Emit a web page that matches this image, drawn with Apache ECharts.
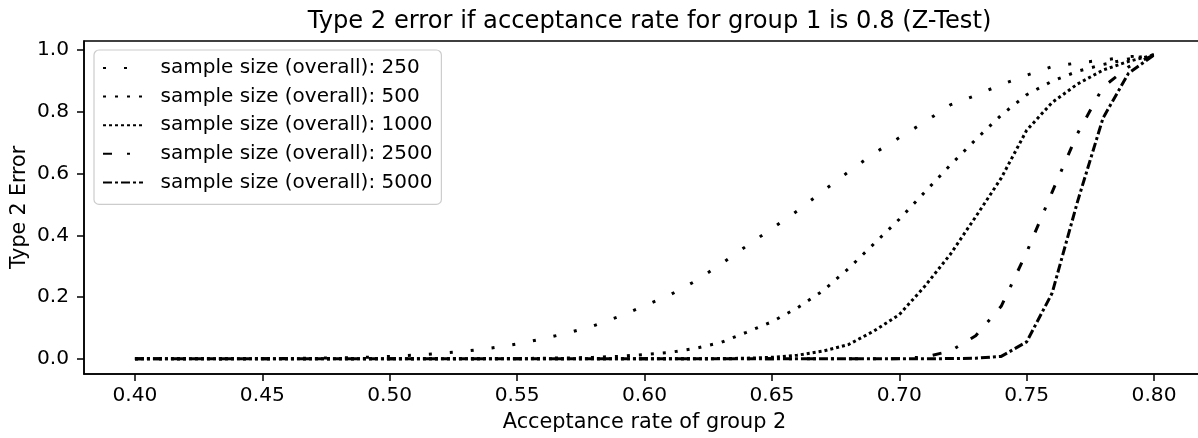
<!DOCTYPE html>
<html><head><meta charset="utf-8">
<script src="https://cdn.jsdelivr.net/npm/echarts@6/dist/echarts.min.js"></script>
<style>html,body{margin:0;padding:0;background:#fff;overflow:hidden}#c{width:1198px;height:438px}</style>
</head><body><div id="c"></div>
<script>
const xs = [0.40,0.41,0.42,0.43,0.44,0.45,0.46,0.47,0.48,0.49,0.50,0.51,0.52,0.53,0.54,0.55,0.56,0.57,0.58,0.59,0.60,0.61,0.62,0.63,0.64,0.65,0.66,0.67,0.68,0.69,0.70,0.71,0.72,0.73,0.74,0.75,0.76,0.77,0.78,0.79,0.80];
const n250 = [0,0,0,0,0,0.001,0.001,0.002,0.003,0.005,0.008,0.012,0.018,0.025,0.035,0.048,0.065,0.084,0.107,0.137,0.172,0.207,0.252,0.307,0.365,0.422,0.479,0.543,0.605,0.665,0.716,0.767,0.822,0.853,0.888,0.918,0.946,0.958,0.967,0.978,0.984];
const n500 = [0,0,0,0,0,0,0,0,0,0,0,0,0,0,0.001,0.001,0.002,0.003,0.005,0.008,0.014,0.021,0.034,0.053,0.086,0.120,0.165,0.220,0.292,0.372,0.452,0.540,0.627,0.710,0.789,0.855,0.899,0.931,0.953,0.971,0.984];
const n1000 = [0,0,0,0,0,0,0,0,0,0,0,0,0,0,0,0,0,0,0,0,0,0,0,0.001,0.002,0.005,0.012,0.025,0.046,0.090,0.143,0.235,0.338,0.460,0.585,0.740,0.830,0.890,0.935,0.963,0.984];
const n2500 = [0,0,0,0,0,0,0,0,0,0,0,0,0,0,0,0,0,0,0,0,0,0,0,0,0,0,0,0,0,0,0.001,0.006,0.025,0.075,0.170,0.345,0.540,0.730,0.880,0.945,0.984];
const n5000 = [0,0,0,0,0,0,0,0,0,0,0,0,0,0,0,0,0,0,0,0,0,0,0,0,0,0,0,0,0,0,0,0,0.001,0.002,0.008,0.055,0.213,0.510,0.780,0.925,0.984];
const seriesNames = ['sample size (overall): 250','sample size (overall): 500','sample size (overall): 1000','sample size (overall): 2500','sample size (overall): 5000'];
const xTicks = [0.40,0.45,0.50,0.55,0.60,0.65,0.70,0.75,0.80];
const yTicks = [0.0,0.2,0.4,0.6,0.8,1.0];
const titleText = 'Type 2 error if acceptance rate for group 1 is 0.8 (Z-Test)';
const xName = 'Acceptance rate of group 2';
const yName = 'Type 2 Error';

const allValues = [n250, n500, n1000, n2500, n5000];
const dashStyles = [[3,18],[3,9],[3,3],[9,15,3,15],[9,3,3,3]];
const FONT = 'DejaVu Sans';

const chart = echarts.init(document.getElementById('c'), null, {renderer: 'canvas'});
const series = allValues.map((vals, i) => ({
  name: seriesNames[i],
  type: 'line',
  data: xs.map((x, j) => [x, vals[j]]),
  symbol: 'none',
  smooth: false,
  animation: false,
  lineStyle: {color: '#000', width: 3, type: dashStyles[i], cap: 'butt'},
  itemStyle: {color: '#000'}
}));

chart.setOption({
  animation: false,
  backgroundColor: '#fff',
  title: {
    text: titleText,
    left: 644.5, top: 5, textAlign: 'center',
    textStyle: {fontFamily: FONT, fontSize: 24.2, fontWeight: 'normal', color: '#000'}
  },
  legend: {
    orient: 'vertical',
    left: 94, top: 50,
    padding: [8, 9, 12, 8],
    itemWidth: 40, itemHeight: 20, itemGap: 8.6,
    backgroundColor: 'rgba(255,255,255,0.8)',
    borderColor: '#cccccc', borderWidth: 1.2, borderRadius: 5,
    itemStyle: {opacity: 0},
    textStyle: {fontFamily: FONT, fontSize: 20, color: '#000', padding: [0,0,0,12.6], lineHeight: 20},
    data: seriesNames
  },
  grid: {left: 84, width: 1121, top: 41, bottom: 64, show: true, borderColor: '#000', borderWidth: 1.5, backgroundColor: 'transparent', containLabel: false, outerBoundsMode: 'none'},
  xAxis: {
    type: 'value', min: 0.38, max: 0.82,
    name: xName, nameLocation: 'middle', nameGap: 38,
    nameTextStyle: {fontFamily: FONT, fontSize: 20.8, color: '#000'},
    axisLine: {show: true, onZero: false, lineStyle: {color: '#000', width: 1.5}},
    axisTick: {show: true, length: 7, lineStyle: {color: '#000', width: 1.5}, customValues: xTicks},
    axisLabel: {fontFamily: FONT, fontSize: 20.2, color: '#000', margin: 12, customValues: xTicks, formatter: v => v.toFixed(2)},
    splitLine: {show: false}
  },
  yAxis: {
    type: 'value', min: -0.049, max: 1.029,
    name: yName, nameLocation: 'middle', nameGap: 54, nameRotate: 90, nameMoveOverlap: false,
    nameTextStyle: {fontFamily: FONT, fontSize: 20.5, color: '#000'},
    axisLine: {show: true, onZero: false, lineStyle: {color: '#000', width: 1.5}},
    axisTick: {show: true, length: 7, lineStyle: {color: '#000', width: 1.5}, customValues: yTicks},
    axisLabel: {fontFamily: FONT, fontSize: 20.2, color: '#000', margin: 15, customValues: yTicks, formatter: v => v.toFixed(1)},
    splitLine: {show: false}
  },
  series: series
});
</script></body></html>
